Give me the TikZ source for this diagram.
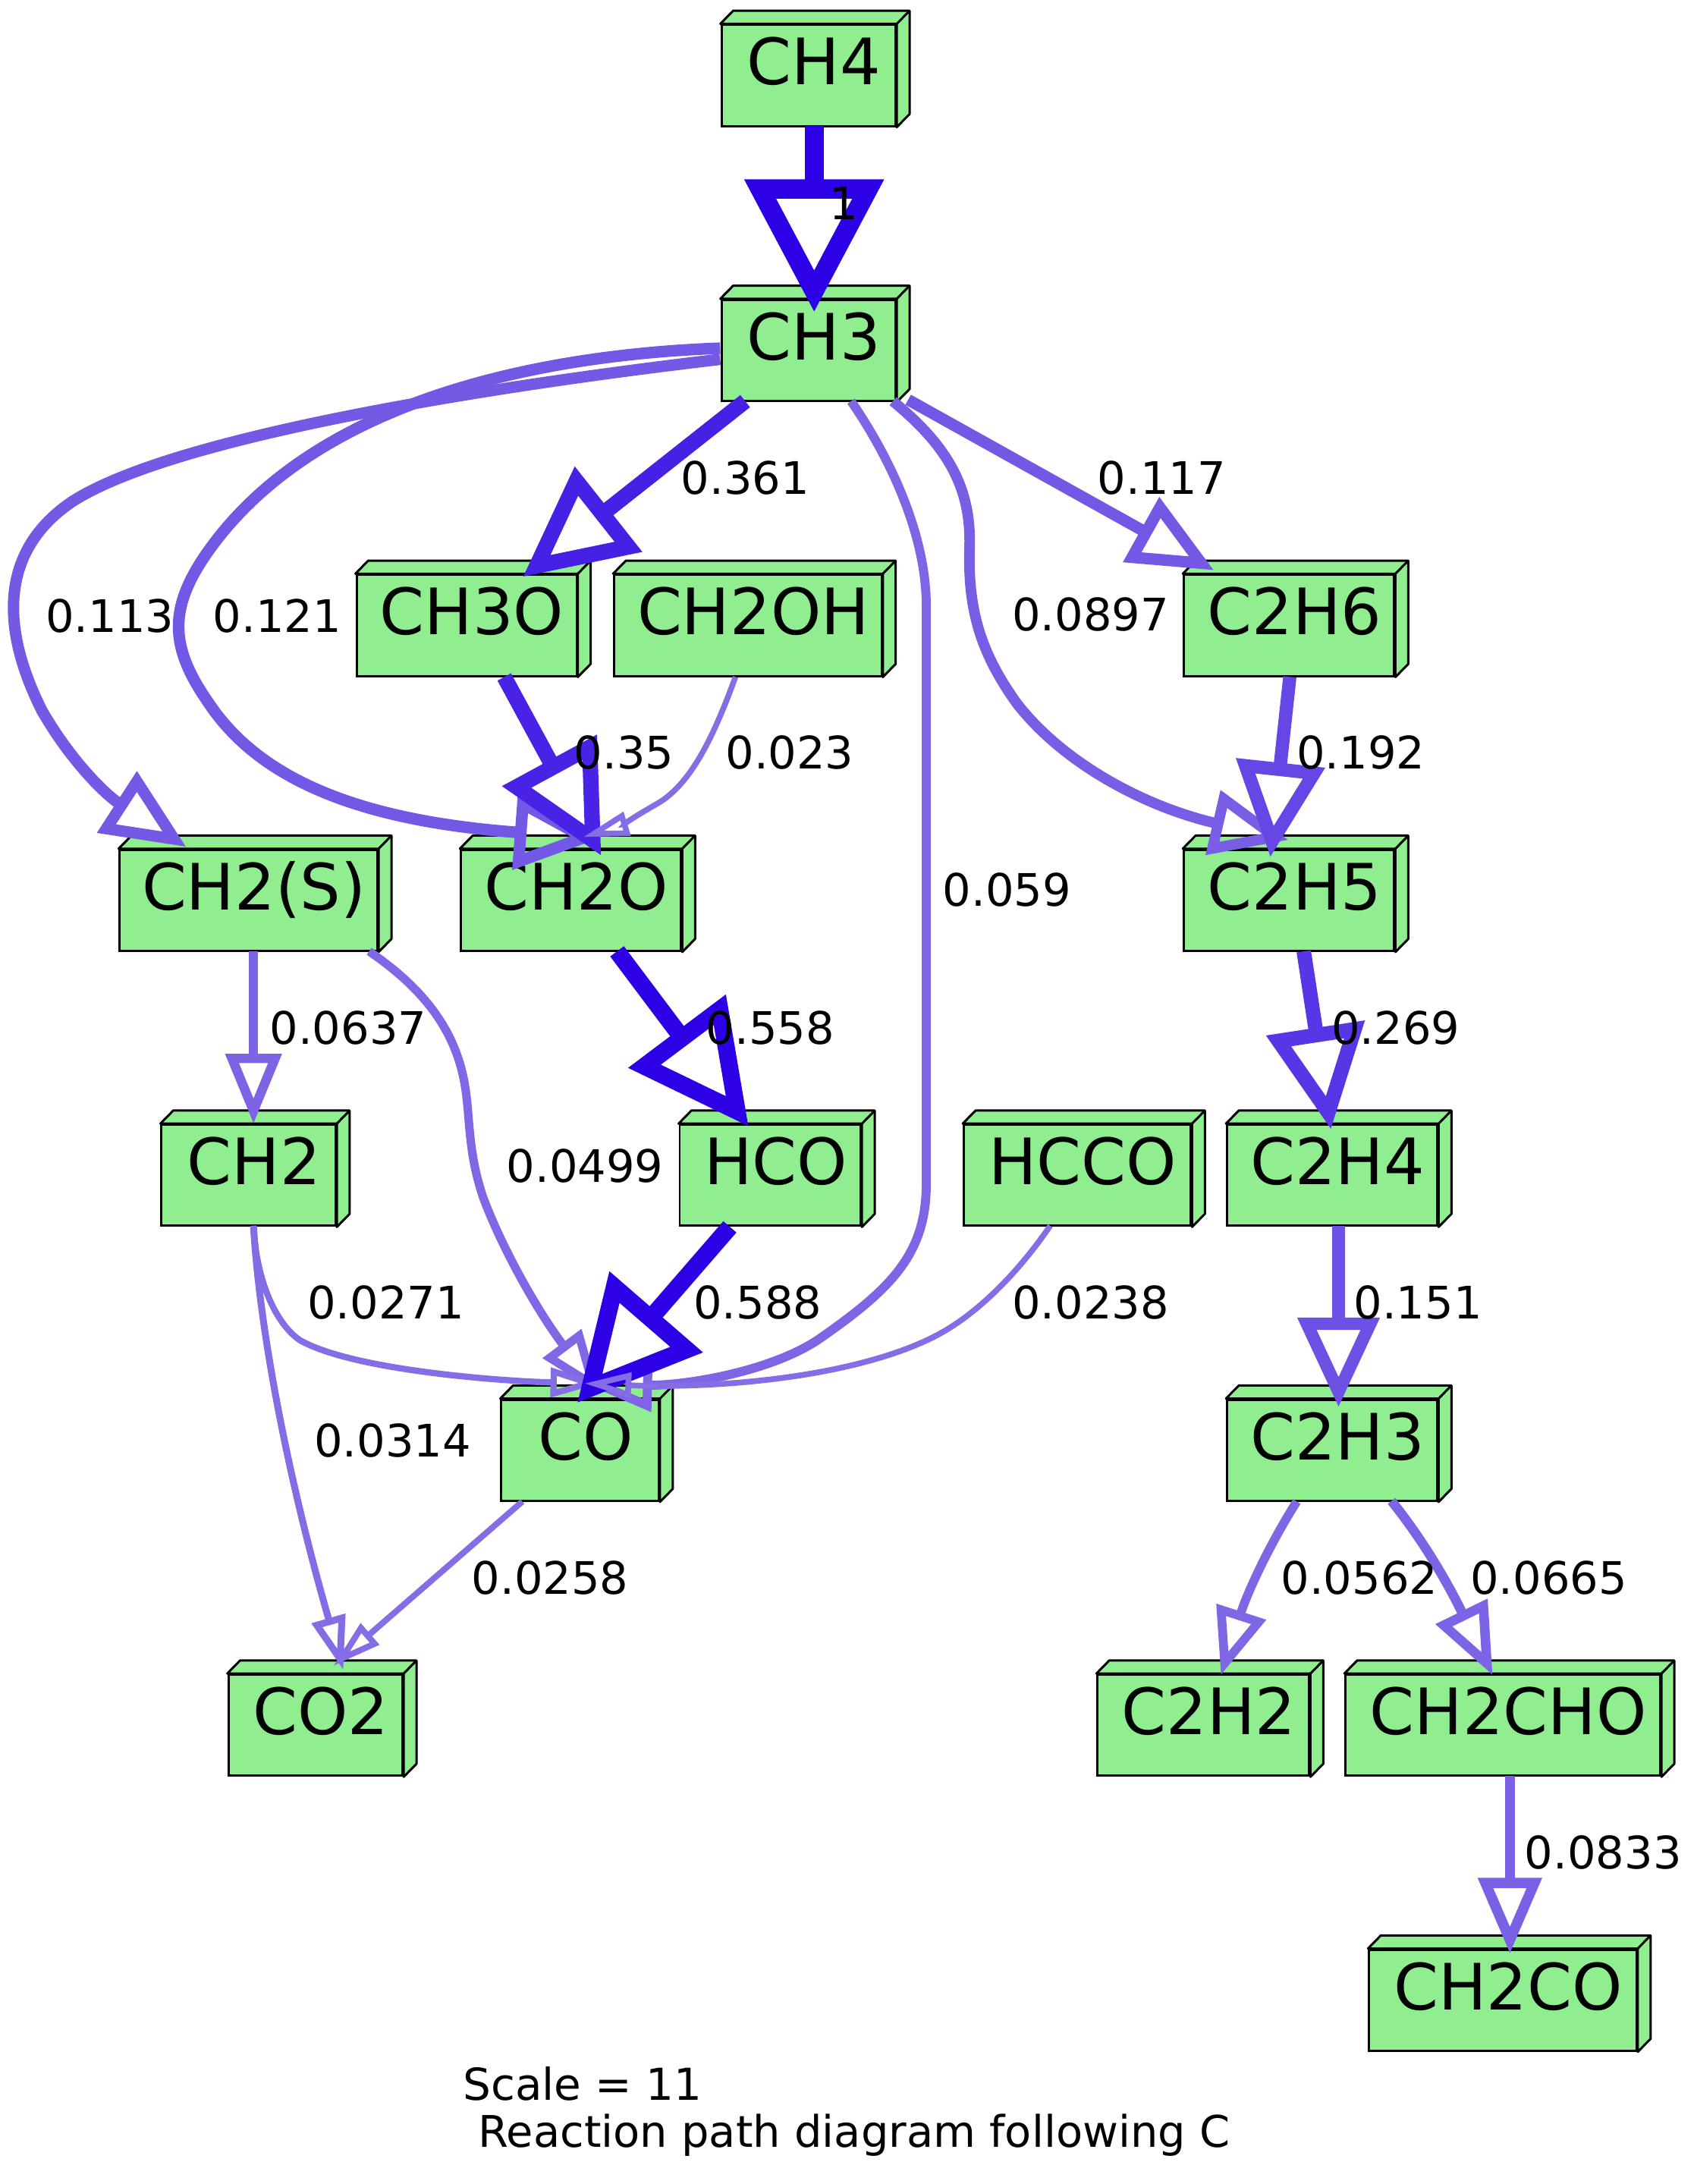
\documentclass[tikz,border=0pt]{standalone}
\usepackage{fontspec}
\setmainfont{DejaVu Sans}
\usetikzlibrary{arrows.meta}
\usetikzlibrary{calc}
\definecolor{boxgreen}{HTML}{90EE90}
\newcommand{\LW}{0.85pt}
\newcommand{\BH}{37.9pt}
\tikzset{
    species/.style={draw=black,fill=boxgreen,line width=\LW,inner sep=0pt,minimum height=\BH,
        text height=17.5pt,text depth=10.4pt,font=\fontsize{24}{24}\selectfont,
        execute at begin node={\hspace*{4pt}}},
    speciesside/.style={draw=black,fill=boxgreen,line width=\LW,line join=round},
    flowlabel/.style={inner sep=0pt,xshift=0.5pt,font=\fontsize{16.8}{16.8}\selectfont},
    infolabel/.style={inner sep=0pt,anchor=west,font=\fontsize{16.5}{16.5}\selectfont},
    flow/.style={/utils/exec={\pgfmathsetmacro{\FlowSat}{min(1,0.5+#1)}%
            \pgfmathsetmacro{\FlowWd}{7.2+3.1*log10(#1)}%
            \pgfmathsetmacro{\FlowR}{0.9*(1-0.8*\FlowSat)}%
            \pgfmathsetmacro{\FlowG}{0.9*(1-\FlowSat)}%
            \definecolor{flowcolor}{rgb}{\FlowR,\FlowG,0.9}},
        draw=flowcolor,line width=\FlowWd pt,
        -{Triangle[open,length=3.7pt 6.4,width=-8.5pt 8.2]}},
}
% front box first, then the top and right faces
\newcommand{\Spec}[5]{\node[species,minimum width=#4*0.5224pt] (#1) at (#2,#3) {#5};
    \filldraw[speciesside] (#1.north west) -- ++(9.2,-9.4) -| ($(#1.south east)+(9.2,-9.4)$) -- (#1.south east) -- (#1.north east) -- cycle;
    \draw[speciesside] (#1.north east) -- ++(9.2,-9.4);}
\begin{document}
\begin{tikzpicture}[x=0.01836cm,y=-0.01836cm]
    \useasboundingbox (0,0) rectangle (1218,1568);

    \Spec{CHfour}{580.5}{54.2}{125}{CH4}
    \Spec{CHthree}{580.5}{251.6}{125}{CH3}
    \Spec{CHthreeO}{335}{449}{158}{CH3O}
    \Spec{CHtwoOH}{537}{449}{192}{CH2OH}
    \Spec{Ctwosix}{925.5}{449}{151}{C2H6}
    \Spec{CHtwoS}{178.5}{646.4}{185}{CH2(S)}
    \Spec{CHtwoO}{410}{646.4}{158}{CH2O}
    \Spec{Ctwofive}{925.5}{646.4}{151}{C2H5}
    \Spec{CHtwo}{178.5}{843.8}{125}{CH2}
    \Spec{HCO}{553}{843.8}{130}{HCO}
    \Spec{HCCO}{773.5}{843.8}{163}{HCCO}
    \Spec{Ctwofour}{956.5}{843.8}{151}{C2H4}
    \Spec{CO}{416.5}{1041.2}{113}{CO}
    \Spec{Ctwothree}{956.5}{1041.2}{151}{C2H3}
    \Spec{COtwo}{226.5}{1238.6}{125}{CO2}
    \Spec{Ctwotwo}{864}{1238.6}{152}{C2H2}
    \Spec{CHtwoCHO}{1079}{1238.6}{226}{CH2CHO}
    \Spec{CHtwoCO}{1079}{1436}{192}{CH2CO}

    \draw[flow=1] ($(CHfour)+(4,36)$) -- ($(CHthree)+(4,-27.5)$);
    \draw[flow=0.361] ($(CHthree)+(-45.5,36.4)$) -- ($(CHthreeO)+(40.3,-34.8)$);
    \draw[flow=0.113] ($(CHthree)+(-63.5,6.4)$) .. controls (380,274) and (130,310) .. (52,360)
        .. controls (0,395) and (0,450) .. (30,510) .. controls (50,545) and (75,570) .. ($(CHtwoS)+(-44.8,-38.4)$);
    \draw[flow=0.121] ($(CHthree)+(-63.5,-1.6)$) .. controls (380,255) and (225,290) .. (150,395)
        .. controls (120,437) and (122,465) .. (150,505) .. controls (190,565) and (270,590) .. ($(CHtwoO)+(20,-44.4)$);
    \draw[flow=0.059] ($(CHthree)+(30.5,36.4)$) .. controls (640,330) and (665,385) .. (665,435) -- (665,850)
        .. controls (665,900) and (640,925) .. (590,960) .. controls (555,985) and (490,995) .. ($(CO)+(3,-48)$);
    \draw[flow=0.0897] ($(CHthree)+(60.5,36.4)$) .. controls (680,320) and (698,350) .. (696,395)
        .. controls (695,440) and (705,470) .. (730,505) .. controls (765,550) and (825,580) .. ($(Ctwofive)+(-0.5,-43.4)$);
    \draw[flow=0.117] ($(CHthree)+(71.5,35.4)$) -- ($(Ctwosix)+(-54,-39.6)$);
    \draw[flow=0.35] ($(CHthreeO)+(27,37)$) -- ($(CHtwoO)+(21.7,-32)$);
    \draw[flow=0.023] ($(CHtwoOH)+(-9,37)$) .. controls (512,530) and (495,565) .. (470,578)
        .. controls (458,585) and (445,593) .. ($(CHtwoO)+(8.6,-45.4)$);
    \draw[flow=0.192] ($(Ctwosix)+(0.5,37)$) -- ($(Ctwofive)+(-13.5,-31)$);
    \draw[flow=0.0637] ($(CHtwoS)+(3.5,36.6)$) -- ($(CHtwo)+(3.5,-37)$);
    \draw[flow=0.0499] ($(CHtwoS)+(86.5,36.6)$) .. controls (300,707) and (325,735) .. (333,775)
        .. controls (338,800) and (335,825) .. (347,860) .. controls (360,895) and (385,940) .. ($(CO)+(14.5,-40)$);
    \draw[flow=0.558] ($(CHtwoO)+(33,36.6)$) -- ($(HCO)+(-15.5,-35)$);
    \draw[flow=0.269] ($(Ctwofive)+(10.5,36.6)$) -- ($(Ctwofour)+(-1,-33)$);
    \draw[flow=0.0271] ($(CHtwo)+(3.5,36.2)$) .. controls (184,920) and (198,950) .. (215,962)
        .. controls (255,985) and (370,992) .. ($(CO)+(14.5,-48)$);
    \draw[flow=0.0314] ($(CHtwo)+(3.5,36.2)$) .. controls (186,950) and (205,1055) .. ($(COtwo)+(20,-39.6)$);
    \draw[flow=0.588] ($(HCO)+(-29,37)$) -- ($(CO)+(-2.1,-34)$);
    \draw[flow=0.0238] ($(HCCO)+(-19.5,36.2)$) .. controls (730,915) and (700,945) .. (670,960)
        .. controls (610,990) and (510,997) .. ($(CO)+(3,-48)$);
    \draw[flow=0.151] ($(Ctwofour)+(4.5,36.2)$) -- ($(Ctwothree)+(4.5,-31)$);
    \draw[flow=0.0258] ($(CO)+(-41.5,36.8)$) -- ($(COtwo)+(12.8,-42.6)$);
    \draw[flow=0.0562] ($(Ctwothree)+(-25.5,36.8)$) .. controls (912,1108) and (896,1142) .. ($(Ctwotwo)+(12.5,-36)$);
    \draw[flow=0.0665] ($(Ctwothree)+(42.5,36.4)$) .. controls (1025,1110) and (1042,1142) .. ($(CHtwoCHO)+(-7.4,-36)$);
    \draw[flow=0.0833] ($(CHtwoCHO)+(5,36.4)$) -- ($(CHtwoCO)+(5,-33.5)$);

    \node[flowlabel] (lbone) at (605,146) {1};
    \node[flowlabel] (lbCHthreeO) at (534,343) {0.361};
    \node[flowlabel] (lbCtwosix) at (833,343) {0.117};
    \node[flowlabel] (lbCHtwoS) at (78,442) {0.113};
    \node[flowlabel] (lbCHtwoOa) at (198,442) {0.121};
    \node[flowlabel] (lbCtwofivea) at (782,441) {0.0897};
    \node[flowlabel] (lbCHtwoOb) at (447,540) {0.35};
    \node[flowlabel] (lbCHtwoOc) at (566,540) {0.023};
    \node[flowlabel] (lbCtwofiveb) at (976,540) {0.192};
    \node[flowlabel] (lbCOa) at (722,639) {0.059};
    \node[flowlabel] (lbCHtwo) at (249,738) {0.0637};
    \node[flowlabel] (lbHCO) at (552,738) {0.558};
    \node[flowlabel] (lbCtwofour) at (1001,738) {0.269};
    \node[flowlabel] (lbCOb) at (419,837) {0.0499};
    \node[flowlabel] (lbCOc) at (276,935) {0.0271};
    \node[flowlabel] (lbCOd) at (543,935) {0.588};
    \node[flowlabel] (lbCOe) at (782,935) {0.0238};
    \node[flowlabel] (lbCtwothree) at (1017,935) {0.151};
    \node[flowlabel] (lbCOtwoa) at (281,1034) {0.0314};
    \node[flowlabel] (lbCOtwob) at (394,1133) {0.0258};
    \node[flowlabel] (lbCtwotwo) at (975,1133) {0.0562};
    \node[flowlabel] (lbCHtwoCHO) at (1111,1133) {0.0665};
    \node[flowlabel] (lbCHtwoCO) at (1150,1330) {0.0833};

    \node[infolabel] (scale) at (332,1496) {Scale = 11};
    \node[infolabel,font=\fontsize{16.35}{16.35}\selectfont] (title) at (343,1533) {Reaction path diagram following C};
\end{tikzpicture}
\end{document}
